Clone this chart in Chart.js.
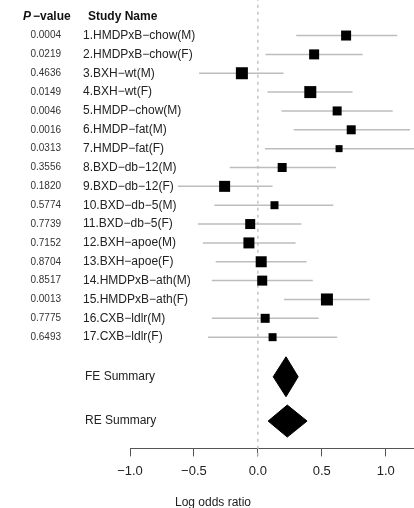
<!DOCTYPE html>
<html>
<head>
<meta charset="utf-8">
<script src="https://cdn.jsdelivr.net/npm/chart.js@4.4.1/dist/chart.umd.min.js"></script>
<style>
  html, body { margin: 0; padding: 0; background: #fff; }
  #wrap { width: 414px; height: 508px; }
</style>
</head>
<body>
<div id="wrap"><canvas id="forest"></canvas></div>
<script>
// study data
const studies = [
  '1.HMDPxB\u2212chow(M)', '2.HMDPxB\u2212chow(F)', '3.BXH\u2212wt(M)', '4.BXH\u2212wt(F)',
  '5.HMDP\u2212chow(M)', '6.HMDP\u2212fat(M)', '7.HMDP\u2212fat(F)', '8.BXD\u2212db\u221212(M)',
  '9.BXD\u2212db\u221212(F)', '10.BXD\u2212db\u22125(M)', '11.BXD\u2212db\u22125(F)', '12.BXH\u2212apoe(M)',
  '13.BXH\u2212apoe(F)', '14.HMDPxB\u2212ath(M)', '15.HMDPxB\u2212ath(F)', '16.CXB\u2212ldlr(M)',
  '17.CXB\u2212ldlr(F)'
];
const pValues = ['0.0004', '0.0219', '0.4636', '0.0149', '0.0046', '0.0016', '0.0313', '0.3556',
  '0.1820', '0.5774', '0.7739', '0.7152', '0.8704', '0.8517', '0.0013', '0.7775', '0.6493'];
const groups = ['sig', 'sig', 'neg', 'sig', 'sig', 'sig', 'ns', 'ns',
  'neg', 'ns', 'ns', 'neg', 'ns', 'ns', 'sig', 'ns', 'ns'];
const estimate = [0.69, 0.44, -0.125, 0.41, 0.62, 0.73, 0.635, 0.19,
  -0.26, 0.13, -0.06, -0.07, 0.026, 0.034, 0.54, 0.057, 0.115];
const lower = [0.30, 0.06, -0.46, 0.075, 0.185, 0.28, 0.055, -0.22,
  -0.625, -0.34, -0.47, -0.43, -0.33, -0.36, 0.205, -0.36, -0.39];
const upper = [1.09, 0.82, 0.20, 0.74, 1.055, 1.19, 1.25, 0.61,
  0.115, 0.59, 0.34, 0.295, 0.38, 0.43, 0.875, 0.475, 0.62];
const weight = [10, 10, 12, 12, 9, 9, 7, 9, 11, 8, 10, 11, 11, 10, 12, 9, 8];

const summaryNames = ['FE Summary', 'RE Summary'];
const summaryEst = [0.22, 0.23];
const summaryLower = [0.12, 0.08];
const summaryUpper = [0.315, 0.385];

const tickValues = [-1.0, -0.5, 0.0, 0.5, 1.0];

// layout helpers
const groupColor = { sig: '#ee1f1f', neg: '#1616ee', ns: '#2fc42f' };
const rowOf = i => i + 1;
const summaryRows = [19.1, 21.45];
const diamondHalf = [1.06, 0.85];
const dotX = -1.43;
const font = 'Liberation Sans, Arial, Helvetica, sans-serif';

const datasets = [];

// zero reference line
datasets.push({
  type: 'line', data: [{ x: 0, y: -1 }, { x: 0, y: 23.35 }],
  borderColor: '#c4c4c4', borderWidth: 1.5, borderDash: [3, 4],
  pointRadius: 0, clip: false, order: 5
});

// confidence interval lines
studies.forEach((s, i) => {
  datasets.push({
    type: 'line', data: [{ x: lower[i], y: rowOf(i) }, { x: upper[i], y: rowOf(i) }],
    borderColor: '#bdbdbd', borderWidth: 1.5, pointRadius: 0, clip: false, order: 4
  });
});

// study estimates (square sized by weight)
datasets.push({
  type: 'scatter',
  data: estimate.map((v, i) => ({ x: v, y: rowOf(i) })),
  pointStyle: 'rect',
  pointRadius: weight.map(w => w / Math.SQRT2),
  backgroundColor: '#000', borderColor: '#000', borderWidth: 0,
  clip: false, order: 1
});

// coloured dots in the label column
datasets.push({
  type: 'scatter',
  data: studies.map((s, i) => ({ x: dotX, y: rowOf(i) })),
  pointStyle: 'circle', pointRadius: 4.5,
  backgroundColor: groups.map(g => groupColor[g]), borderWidth: 0,
  clip: false, order: 1
});

// summary diamonds
summaryNames.forEach((n, k) => {
  const y = summaryRows[k], h = diamondHalf[k];
  datasets.push({
    type: 'line',
    data: [
      { x: summaryLower[k], y: y }, { x: summaryEst[k], y: y - h },
      { x: summaryUpper[k], y: y }, { x: summaryEst[k], y: y + h },
      { x: summaryLower[k], y: y }
    ],
    borderColor: '#000', borderWidth: 1, backgroundColor: '#000',
    fill: 'shape', pointRadius: 0, tension: 0, clip: false, order: 2
  });
});

const textPlugin = {
  id: 'forestText',
  afterDraw(chart) {
    const { ctx, scales: { y } } = chart;
    ctx.save();
    ctx.textBaseline = 'middle';

    // header
    ctx.fillStyle = '#111';
    ctx.font = 'italic bold 12px ' + font;
    ctx.textAlign = 'left';
    ctx.fillText('P', 23, 17);
    ctx.font = 'bold 12px ' + font;
    ctx.fillText('\u2212value', 33, 17);
    ctx.fillText('Study Name', 88, 17);

    studies.forEach((s, i) => {
      const py = y.getPixelForValue(rowOf(i));
      ctx.fillStyle = '#333';
      ctx.font = '10px ' + font;
      ctx.textAlign = 'right';
      ctx.fillText(pValues[i], 61, py);
      ctx.fillStyle = '#222';
      ctx.font = '12px ' + font;
      ctx.textAlign = 'left';
      ctx.fillText(s, 83, py);
    });

    ctx.font = '12px ' + font;
    ctx.fillStyle = '#222';
    ctx.textAlign = 'left';
    summaryNames.forEach((n, k) => {
      ctx.fillText(n, 85, y.getPixelForValue(summaryRows[k]));
    });

    ctx.textAlign = 'center';
    ctx.fillText('Log odds ratio', 213, 503);
    ctx.restore();
  }
};

new Chart(document.getElementById('forest'), {
  type: 'scatter',
  data: { datasets },
  options: {
    responsive: true,
    maintainAspectRatio: false,
    animation: false,
    layout: { autoPadding: false, padding: { left: 130, right: 0, top: 0, bottom: 22 } },
    plugins: { legend: { display: false }, tooltip: { enabled: false } },
    scales: {
      x: {
        type: 'linear', min: -1, max: 1.221,
        afterBuildTicks: scale => { scale.ticks = tickValues.map(v => ({ value: v })); },
        afterFit: scale => {
          scale.paddingLeft = 0; scale.paddingRight = 0;
          scale.paddingTop = 0; scale.paddingBottom = 0;
        },
        grid: { display: true, drawOnChartArea: false, drawTicks: true, tickLength: 8, color: '#555', lineWidth: 1 },
        border: { display: true, color: '#555', width: 1 },
        ticks: {
          padding: 7, color: '#222',
          font: { family: font, size: 13 },
          callback: v => v.toFixed(1).replace('-', '\u2212')
        }
      },
      y: {
        type: 'linear', reverse: true, min: -0.885, max: 22.9, display: false
      }
    }
  },
  plugins: [textPlugin]
});
</script>
</body>
</html>
